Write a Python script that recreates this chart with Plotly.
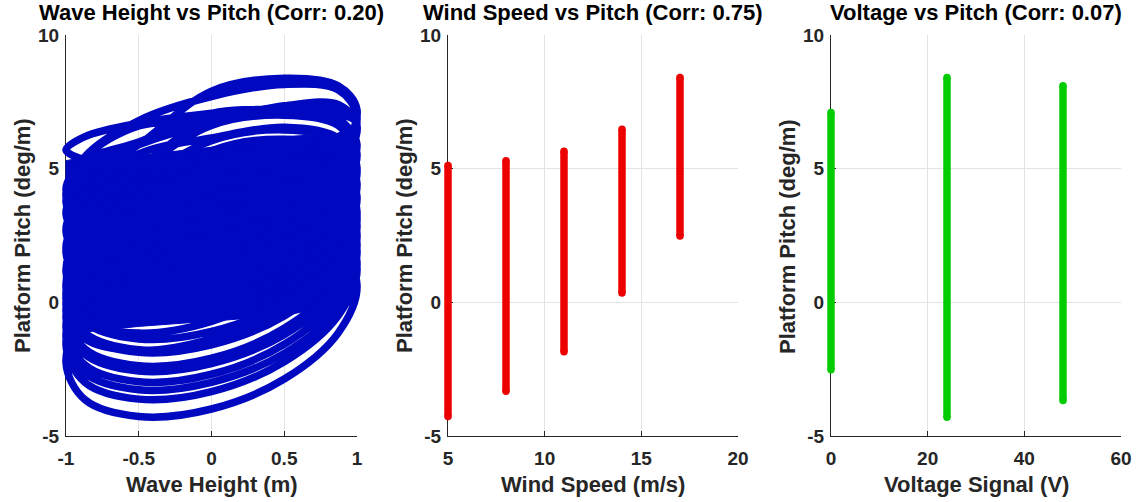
import plotly.graph_objects as go

# ---------------- data ----------------
# one wave cycle of wave height samples (m)
wave_cycle = [0, 0.5, 0.87, 1, 0.87, 0.5, 0, -0.5, -0.87, -1, -0.87, -0.5]

# platform pitch (deg/m) at the samples of successive wave cycles
pitch_loops = [
    [2.39, 2.67, 2.04, 0.64, -1.15, -2.87, -3.99, -4.27, -3.64, -2.24, -0.45, 1.27],
    [3.04, 3.32, 2.69, 1.29, -0.50, -2.22, -3.34, -3.62, -2.99, -1.59, 0.20, 1.92],
    [3.69, 3.97, 3.34, 1.94, 0.15, -1.57, -2.69, -2.97, -2.34, -0.94, 0.85, 2.57],
    [4.29, 4.57, 3.94, 2.54, 0.75, -0.97, -2.09, -2.37, -1.74, -0.34, 1.45, 3.17],
    [4.89, 5.17, 4.54, 3.14, 1.35, -0.37, -1.49, -1.77, -1.14, 0.26, 2.05, 3.77],
    [3.19, 3.47, 2.85, 1.49, -0.24, -1.91, -2.99, -3.27, -2.65, -1.29, 0.44, 2.11],
    [3.89, 4.17, 3.55, 2.19, 0.46, -1.21, -2.29, -2.57, -1.95, -0.59, 1.14, 2.81],
    [4.59, 4.87, 4.25, 2.89, 1.16, -0.51, -1.59, -1.87, -1.25, 0.11, 1.84, 3.51],
    [5.09, 5.37, 4.75, 3.39, 1.66, -0.01, -1.09, -1.37, -0.75, 0.61, 2.34, 4.01],
    [4.56, 5.00, 4.56, 3.30, 1.60, -0.10, -1.36, -1.80, -1.36, -0.10, 1.60, 3.30],
    [5.21, 5.65, 5.21, 3.95, 2.25, 0.55, -0.71, -1.15, -0.71, 0.55, 2.25, 3.95],
    [5.67, 6.10, 5.67, 4.45, 2.80, 1.15, -0.07, -0.50, -0.07, 1.15, 2.80, 4.45],
    [6.05, 6.45, 6.05, 4.93, 3.40, 1.87, 0.75, 0.35, 0.75, 1.87, 3.40, 4.93],
    [6.62, 7.00, 6.62, 5.55, 4.10, 2.65, 1.58, 1.20, 1.58, 2.65, 4.10, 5.55],
    [6.15, 6.55, 6.15, 5.03, 3.50, 1.97, 0.85, 0.45, 0.85, 1.97, 3.50, 5.03],
    [6.86, 7.20, 6.86, 5.90, 4.60, 3.30, 2.34, 2.00, 2.34, 3.30, 4.60, 5.90],
    [7.90, 8.38, 8.10, 7.20, 5.45, 3.97, 2.88, 2.50, 2.88, 3.97, 5.45, 6.80],
    [7.70, 8.15, 7.95, 6.95, 5.40, 4.00, 3.00, 2.65, 3.00, 4.00, 5.40, 6.60],
    [6.80, 7.35, 7.40, 6.60, 5.00, 3.75, 2.82, 2.50, 2.82, 3.75, 5.00, 5.90],
    [6.70, 7.20, 7.30, 6.60, 5.30, 4.20, 3.39, 3.10, 3.39, 4.20, 5.30, 6.00],
    [7.07, 7.20, 7.07, 6.70, 6.20, 5.70, 5.33, 5.20, 5.33, 5.70, 6.20, 6.70],
]

# densely overlapped (solid) core of the wave-height/pitch cloud
core_wave = [-1, -1, -0.8, -0.5, 0, 0.5, 0.85, 1, 1, 0.85, 0.5, 0, -0.5, -0.85, -1]
core_pitch = [-1.2, 5.3, 5.5, 5.5, 5.8, 6.2, 6.3, 6.0, 0.6, -0.1, -0.5, -0.7, -0.9, -1.1, -1.2]

wind_speed = [5, 8, 11, 14, 17]
wind_pitch_min = [-4.27, -3.33, -1.85, 0.35, 2.48]
wind_pitch_max = [5.12, 5.30, 5.65, 6.47, 8.41]

voltage = [0, 24, 48]
volt_pitch_min = [-2.52, -4.30, -3.67]
volt_pitch_max = [7.10, 8.41, 8.10]

titles = ["Wave Height vs Pitch (Corr: 0.20)",
          "Wind Speed vs Pitch (Corr: 0.75)",
          "Voltage vs Pitch (Corr: 0.07)"]
xlabels = ["Wave Height (m)", "Wind Speed (m/s)", "Voltage Signal (V)"]
ylabel = "Platform Pitch (deg/m)"
x_ranges = [[-1, 1], [5, 20], [0, 60]]
x_tickvals = [[-1, -0.5, 0, 0.5, 1], [5, 10, 15, 20], [0, 20, 40, 60]]
x_ticktext = [["-1", "-0.5", "0", "0.5", "1"], ["5", "10", "15", "20"], ["0", "20", "40", "60"]]
y_range = [-5, 10]
y_tickvals = [-5, 0, 5, 10]
y_ticktext = ["-5", "0", "5", "10"]

# ---------------- layout constants (pixels) ----------------
W, H = 1138, 502
PX = [(66, 357), (448, 738), (831, 1121)]
PY = (35, 436)  # top, bottom
EXT = 12  # extra pixels for invisible data axes so thick lines are not clipped

BLUE = "rgb(0,8,192)"
RED = "rgb(236,0,0)"
GREEN = "rgb(0,204,0)"
LW = 7.5
FONT = "Liberation Sans, Arial, Helvetica, sans-serif"
TXT = "#262626"

fig = go.Figure()

# empty traces so the visible axes get drawn
for n in ["", "2", "3"]:
    fig.add_trace(go.Scatter(x=[None], y=[None], mode="lines", xaxis="x" + n, yaxis="y" + n,
                             showlegend=False, hoverinfo="skip"))

# panel 1 data
wx, wy = [], []
for loop in pitch_loops:
    wx += wave_cycle
    wy += loop
wx.append(wave_cycle[0])
wy.append(pitch_loops[-1][0])

fig.add_trace(go.Scatter(x=core_wave, y=core_pitch, mode="lines", fill="toself",
                         fillcolor=BLUE, line=dict(color=BLUE, width=1),
                         xaxis="x4", yaxis="y4", hoverinfo="skip", showlegend=False))
fig.add_trace(go.Scatter(x=wx, y=wy, mode="lines",
                         line=dict(color=BLUE, width=LW, shape="spline", smoothing=1.0),
                         xaxis="x4", yaxis="y4", showlegend=False))

# panel 2 data
sx, sy = [], []
for ws, lo, hi in zip(wind_speed, wind_pitch_min, wind_pitch_max):
    sx += [ws, ws, None]
    sy += [lo, hi, None]
fig.add_trace(go.Scatter(x=sx, y=sy, mode="lines+markers",
                         line=dict(color=RED, width=LW),
                         marker=dict(color=RED, size=LW, line=dict(width=0)),
                         xaxis="x5", yaxis="y5", showlegend=False))

# panel 3 data
vx, vy = [], []
for v, lo, hi in zip(voltage, volt_pitch_min, volt_pitch_max):
    vx += [v, v, None]
    vy += [lo, hi, None]
fig.add_trace(go.Scatter(x=vx, y=vy, mode="lines+markers",
                         line=dict(color=GREEN, width=LW),
                         marker=dict(color=GREEN, size=LW, line=dict(width=0)),
                         xaxis="x6", yaxis="y6", showlegend=False))

layout = dict(width=W, height=H, margin=dict(l=0, r=0, t=0, b=0, autoexpand=False),
              paper_bgcolor="white", plot_bgcolor="rgba(0,0,0,0)",
              font=dict(family=FONT, color=TXT), showlegend=False)

ydom = [1 - PY[1] / H, 1 - PY[0] / H]
yscale = (y_range[1] - y_range[0]) / (PY[1] - PY[0])
ydom_ext = [1 - (PY[1] + EXT) / H, 1 - (PY[0] - EXT) / H]
yrange_ext = [y_range[0] - EXT * yscale, y_range[1] + EXT * yscale]

annotations = []
for i in range(3):
    x0, x1 = PX[i]
    r0, r1 = x_ranges[i]
    xs = (r1 - r0) / (x1 - x0)
    n = "" if i == 0 else str(i + 1)
    layout["xaxis" + n] = dict(
        domain=[x0 / W, x1 / W], range=x_ranges[i], anchor="y" + n, automargin=False,
        tickvals=x_tickvals[i], ticktext=x_ticktext[i], ticklabelstandoff=5,
        showline=True, linecolor=TXT, linewidth=1, mirror=False,
        ticks="inside", ticklen=5, tickcolor=TXT, tickwidth=1,
        showgrid=True, gridcolor="#E3E3E3", gridwidth=1, zeroline=False,
        tickfont=dict(family=FONT, size=19, color=TXT, weight="bold"),
        fixedrange=True)
    layout["yaxis" + n] = dict(
        domain=ydom, range=y_range, anchor="x" + n, automargin=False,
        tickvals=y_tickvals, ticktext=y_ticktext, ticklabelstandoff=2,
        showline=True, linecolor=TXT, linewidth=1, mirror=False,
        ticks="inside", ticklen=5, tickcolor=TXT, tickwidth=1,
        showgrid=True, gridcolor="#E3E3E3", gridwidth=1, zeroline=False,
        tickfont=dict(family=FONT, size=19, color=TXT, weight="bold"),
        fixedrange=True)
    m = str(i + 4)
    layout["xaxis" + m] = dict(
        domain=[(x0 - EXT) / W, (x1 + EXT) / W], automargin=False,
        range=[r0 - EXT * xs, r1 + EXT * xs], anchor="y" + m,
        visible=False, showgrid=False, zeroline=False, fixedrange=True)
    layout["yaxis" + m] = dict(
        domain=ydom_ext, range=yrange_ext, anchor="x" + m, automargin=False,
        visible=False, showgrid=False, zeroline=False, fixedrange=True)

    cx = (x0 + x1) / 2 / W
    annotations.append(dict(text=titles[i], x=cx, y=1 - 13 / H, xref="paper", yref="paper",
                            xanchor="center", yanchor="middle", showarrow=False,
                            font=dict(family=FONT, size=22, color="black", weight="bold")))
    annotations.append(dict(text=xlabels[i], x=cx, y=1 - 484 / H, xref="paper", yref="paper",
                            xanchor="center", yanchor="middle", showarrow=False,
                            font=dict(family=FONT, size=22, color=TXT, weight="bold")))
    ylx = [22, 404, 787][i]
    annotations.append(dict(text=ylabel, x=ylx / W, y=1 - 236 / H, xref="paper", yref="paper",
                            xanchor="center", yanchor="middle", showarrow=False, textangle=-90,
                            font=dict(family=FONT, size=22, color=TXT, weight="bold")))

layout["annotations"] = annotations
fig.update_layout(**layout)
fig.write_html("out.html")
